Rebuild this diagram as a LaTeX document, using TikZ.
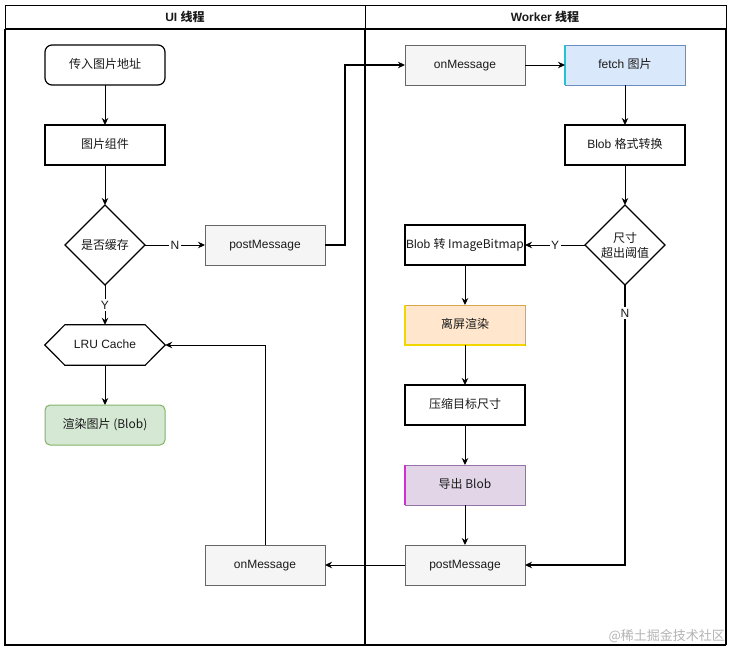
\documentclass[tikz,border=0pt]{standalone}
\usepackage{fontspec}
\setmainfont{Liberation Sans}
\newfontfamily\cjk{Noto Sans CJK SC}
\usetikzlibrary{arrows.meta,shapes.geometric,calc}

\definecolor{txt}{HTML}{1A1A1A}
\definecolor{msgfill}{HTML}{F5F5F5}
\definecolor{msgline}{HTML}{666666}
\definecolor{greenfill}{HTML}{D5E8D4}
\definecolor{greenline}{HTML}{82B366}
\definecolor{bluefill}{HTML}{DAE8FC}
\definecolor{blueline}{HTML}{6C8EBF}
\definecolor{blueedge}{HTML}{22C3D8}
\definecolor{orangefill}{HTML}{FFE6CC}
\definecolor{orangeline}{HTML}{D7A84A}
\definecolor{orangeedge}{HTML}{F2D600}
\definecolor{purplefill}{HTML}{E1D5E7}
\definecolor{purpleline}{HTML}{9673A6}
\definecolor{purpleedge}{HTML}{D030D0}
\definecolor{mark}{HTML}{B4B4B4}

\tikzset{
  basefont/.style={font=\fontsize{12}{15}\selectfont, text=txt},
  box/.style={basefont, draw, line width=1.2pt, minimum width=120pt,
    minimum height=40pt, inner sep=0pt, outer sep=0pt,
    text height=9pt, text depth=2.6pt},
  msgbox/.style={box, fill=msgfill, draw=msgline, line width=1pt},
  decision/.style={basefont, shape=diamond, draw, line width=1.2pt,
    minimum width=80pt, minimum height=80pt, inner sep=0pt, outer sep=0pt,
    align=center},
  flow/.style={line width=1pt, -{Stealth[length=7pt,width=6.5pt]}},
  bus/.style={flow, line width=1.8pt},
  lbl/.style={basefont, fill=white, inner sep=1.5pt},
  head/.style={font=\bfseries\fontsize{12}{14}\selectfont, text=txt}
}

\begin{document}
\begin{tikzpicture}[x=1pt,y=-1pt]
\useasboundingbox (0,0) rectangle (732,651);
\fill[white] (0,0) rectangle (732,651);

% lane frame
\draw[line width=1pt] (5,29) -- (5,5) -- (726,5) -- (726,29);
\draw[line width=1pt] (365,5) -- (365,29);
\draw[line width=2pt] (5,29) -- (726,29);
\draw[line width=1.3pt] (5,29) -- (5,645) -- (726,645);
\draw[line width=2pt] (365,29) -- (365,645);
\draw[line width=2pt] (726,29) -- (726,645);

\node[head] (hui) at (185,17) {UI \cjk{线程}};
\node[head] (hwk) at (545,17) {Worker \cjk{线程}};

% UI thread
\node[box, rounded corners=7pt] (src) at (105,65) {\cjk{传入图片地址}};
\node[box] (comp) at (105,145) {\cjk{图片组件}};
\node[decision] (cached) at (105,245) {\cjk{是否缓存}};
\node[msgbox] (post1) at (265,245) {postMessage};
\node[basefont, minimum width=120pt, minimum height=40pt, inner sep=0pt,
  text height=9pt, text depth=2.6pt] (lru) at (105,345) {LRU Cache};
\draw[line width=1.2pt] (lru.west) -- ($(lru.north west)+(20,0)$) -- ($(lru.north east)+(-20,0)$)
  -- (lru.east) -- ($(lru.south east)+(-20,0)$) -- ($(lru.south west)+(20,0)$) -- cycle;
\node[box, fill=greenfill, draw=greenline, line width=1pt, rounded corners=5pt] (show) at (105,425) {\cjk{渲染图片} (Blob)};
\node[msgbox] (recv1) at (265,565) {onMessage};

% Worker thread
\node[msgbox] (recv2) at (465,65) {onMessage};
\node[box, fill=bluefill, draw=blueline, line width=1pt] (fetch) at (625,65) {fetch \cjk{图片}};
\draw[blueedge, line width=1.2pt] (fetch.north west) -- (fetch.south west);
\node[box] (conv) at (625,145) {Blob \cjk{格式转换}};
\node[decision] (big) at (625,245) {\cjk{尺寸}\\\cjk{超出阈值}};
\node[box] (bmp) at (465,245) {Blob \cjk{转} ImageBitmap};
\node[box, fill=orangefill, draw=orangeline, line width=1pt] (off) at (465,325) {\cjk{离屏渲染}};
\draw[orangeedge, line width=1.2pt] (off.north west) -- (off.south west) -- (off.south east);
\node[box] (shrink) at (465,405) {\cjk{压缩目标尺寸}};
\node[box, fill=purplefill, draw=purpleline, line width=1pt] (export) at (465,485) {\cjk{导出} Blob};
\draw[purpleedge, line width=1.2pt] (export.north west) -- (export.south west);
\node[msgbox] (post2) at (465,565) {postMessage};

% connectors
\draw[flow] (src) -- (comp);
\draw[flow] (comp) -- (cached);
\draw[flow] (cached) -- node[lbl] {N} (post1);
\draw[flow] (cached) -- node[lbl] {Y} (lru);
\draw[flow] (lru) -- (show);
\draw[bus] (post1.east) -- (345,245) |- (recv2.west);
\draw[flow] (recv2) -- (fetch);
\draw[flow] (fetch) -- (conv);
\draw[flow] (conv) -- (big);
\draw[flow] (big) -- node[lbl] {Y} (bmp);
\draw[bus] (big.south) |- node[lbl, pos=0.05] {N} (post2.east);
\draw[flow] (bmp) -- (off);
\draw[flow] (off) -- (shrink);
\draw[flow] (shrink) -- (export);
\draw[flow] (export) -- (post2);
\draw[flow] (post2) -- (recv1);
\draw[flow] (recv1.north) |- (lru.east);

\node[anchor=east, text=mark, font=\cjk\fontsize{13}{15}\selectfont, inner sep=0pt] (wm) at (725,636) {@稀土掘金技术社区};
\end{tikzpicture}
\end{document}
